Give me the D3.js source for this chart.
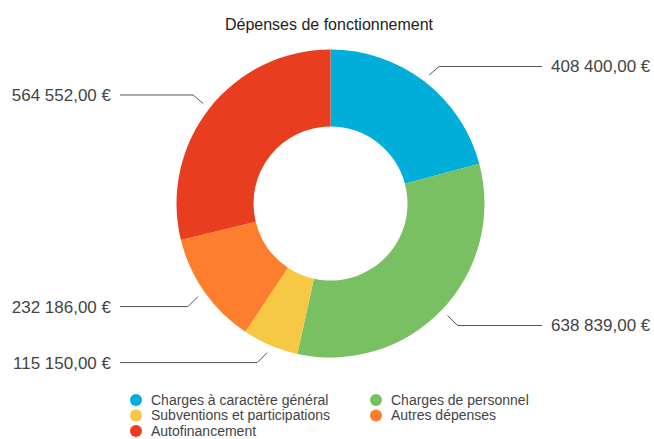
<!DOCTYPE html>
<html>
<head>
<meta charset="utf-8">
<script src="https://cdn.jsdelivr.net/npm/d3@7"></script>
<style>
  body { margin: 0; background: #fff; }
  svg { display: block; font-family: "Liberation Sans", Arial, sans-serif; }
</style>
</head>
<body>
<div id="chart"></div>
<script>
// data
const categories = [
  'Charges à caractère général',
  'Charges de personnel',
  'Subventions et participations',
  'Autres dépenses',
  'Autofinancement'
];
const values = [408400, 638839, 115150, 232186, 564552];
const colors = ['#00aed9', '#79c062', '#f7c844', '#fd7f2d', '#e83d1f'];
const title = 'Dépenses de fonctionnement';

const W = 654, H = 439;
const CX = 330.5, CY = 203.5, R = 154, R_IN = 77;

const fmt = (v) => d3.format(',.2f')(v).replace(/,/g, ' ').replace('.', ',') + ' €';

const svg = d3.select('#chart').append('svg')
  .attr('width', W).attr('height', H);

svg.append('text')
  .attr('x', 329).attr('y', 30)
  .attr('text-anchor', 'middle')
  .attr('font-size', 16)
  .attr('fill', '#222')
  .text(title);

const data = categories.map((c, i) => ({ name: c, value: values[i], color: colors[i] }));
const pie = d3.pie().sort(null).value((d) => d.value);
const arcs = pie(data);

const g = svg.append('g').attr('transform', `translate(${CX}, ${CY})`);

const arc = d3.arc().innerRadius(R_IN).outerRadius(R);
g.selectAll('path.slice')
  .data(arcs)
  .join('path')
  .attr('class', 'slice')
  .attr('d', arc)
  .attr('fill', (d) => d.data.color);

// leader lines + labels
const startArc = d3.arc().innerRadius(R + 8).outerRadius(R + 8);

arcs.forEach((d) => {
  const p0 = startArc.centroid(d);
  const right = p0[0] > 0;
  const down = p0[1] > 0;
  const p1 = [p0[0] + (right ? 10 : -10), p0[1] + (down ? 10 : -8.5)];
  const endX = right ? 542 - CX : 120 - CX;
  g.append('polyline')
    .attr('points', [p0, p1, [endX, p1[1]]].map((p) => p.join(',')).join(' '))
    .attr('fill', 'none')
    .attr('stroke', '#555')
    .attr('stroke-width', 1);
  g.append('text')
    .attr('x', right ? endX + 9 : endX - 9)
    .attr('y', p1[1])
    .attr('dy', '0.35em')
    .attr('text-anchor', right ? 'start' : 'end')
    .attr('font-size', 17)
    .attr('fill', '#444')
    .text(fmt(d.data.value));
});

// legend
const legend = svg.append('g');
const colX = [136, 376];
data.forEach((d, i) => {
  const x = colX[i % 2];
  const y = 400 + Math.floor(i / 2) * 15.5;
  legend.append('circle')
    .attr('cx', x).attr('cy', y).attr('r', 6)
    .attr('fill', d.color);
  legend.append('text')
    .attr('x', x + 15).attr('y', y)
    .attr('dy', '0.35em')
    .attr('font-size', 14)
    .attr('fill', '#444')
    .text(d.name);
});
</script>
</body>
</html>
